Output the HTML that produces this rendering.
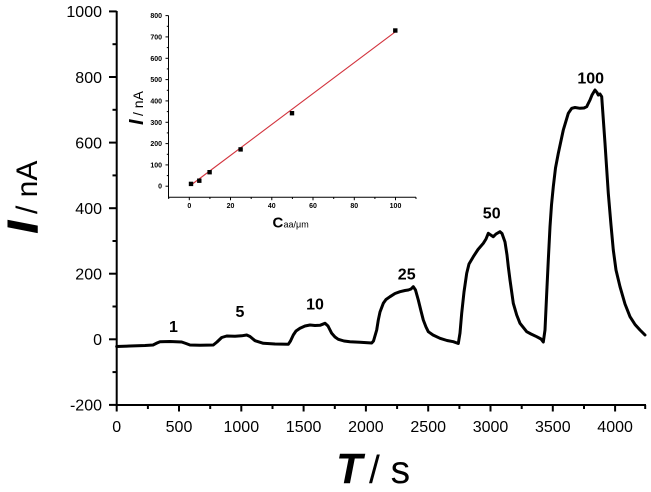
<!DOCTYPE html>
<html><head><meta charset="utf-8"><style>
html,body{margin:0;padding:0;background:#fff;}
svg{display:block;}
text{font-family:"Liberation Sans",Arial,sans-serif;fill:#000;}
</style></head><body>
<svg width="651" height="492" viewBox="0 0 651 492" xmlns="http://www.w3.org/2000/svg">
<rect width="651" height="492" fill="#fff"/>
<!-- main axes -->
<g stroke="#000" stroke-width="2" fill="none">
<line x1="116.7" y1="11" x2="116.7" y2="406"/>
<line x1="115.7" y1="405" x2="646" y2="405"/>
<line x1="109" y1="11.4" x2="116.7" y2="11.4"/>
<line x1="109" y1="77" x2="116.7" y2="77"/>
<line x1="109" y1="142.6" x2="116.7" y2="142.6"/>
<line x1="109" y1="208.2" x2="116.7" y2="208.2"/>
<line x1="109" y1="273.7" x2="116.7" y2="273.7"/>
<line x1="109" y1="339.3" x2="116.7" y2="339.3"/>
<line x1="109" y1="404.9" x2="116.7" y2="404.9"/>
<line x1="112.5" y1="44.2" x2="116.7" y2="44.2"/>
<line x1="112.5" y1="109.8" x2="116.7" y2="109.8"/>
<line x1="112.5" y1="175.4" x2="116.7" y2="175.4"/>
<line x1="112.5" y1="241" x2="116.7" y2="241"/>
<line x1="112.5" y1="306.5" x2="116.7" y2="306.5"/>
<line x1="112.5" y1="372.1" x2="116.7" y2="372.1"/>
<line x1="116.7" y1="405" x2="116.7" y2="411.5"/>
<line x1="179" y1="405" x2="179" y2="411.5"/>
<line x1="241.3" y1="405" x2="241.3" y2="411.5"/>
<line x1="303.6" y1="405" x2="303.6" y2="411.5"/>
<line x1="365.9" y1="405" x2="365.9" y2="411.5"/>
<line x1="428.2" y1="405" x2="428.2" y2="411.5"/>
<line x1="490.5" y1="405" x2="490.5" y2="411.5"/>
<line x1="552.8" y1="405" x2="552.8" y2="411.5"/>
<line x1="615.1" y1="405" x2="615.1" y2="411.5"/>
<line x1="147.9" y1="405" x2="147.9" y2="409"/>
<line x1="210.2" y1="405" x2="210.2" y2="409"/>
<line x1="272.5" y1="405" x2="272.5" y2="409"/>
<line x1="334.8" y1="405" x2="334.8" y2="409"/>
<line x1="397.1" y1="405" x2="397.1" y2="409"/>
<line x1="459.4" y1="405" x2="459.4" y2="409"/>
<line x1="521.7" y1="405" x2="521.7" y2="409"/>
<line x1="584" y1="405" x2="584" y2="409"/>
<line x1="645.2" y1="405" x2="645.2" y2="409"/>
</g>
<g font-size="16" text-anchor="end">
<text x="102" y="17.2">1000</text>
<text x="102" y="82.8">800</text>
<text x="102" y="148.4">600</text>
<text x="102" y="214">400</text>
<text x="102" y="279.5">200</text>
<text x="102" y="345.1">0</text>
<text x="102" y="410.7">-200</text>
</g>
<g font-size="16" text-anchor="middle">
<text x="116.7" y="432">0</text>
<text x="179" y="432">500</text>
<text x="241.3" y="432">1000</text>
<text x="303.6" y="432">1500</text>
<text x="365.9" y="432">2000</text>
<text x="428.2" y="432">2500</text>
<text x="490.5" y="432">3000</text>
<text x="552.8" y="432">3500</text>
<text x="615.1" y="432">4000</text>
</g>
<text x="336" y="483" font-size="43" font-weight="bold" font-style="italic">T</text>
<text x="369" y="483" font-size="39">/ s</text>
<g transform="translate(37,233) rotate(-90)">
<text x="0" y="0" font-size="42" font-weight="bold" font-style="italic" stroke="#000" stroke-width="1.5">I</text>
<text x="19" y="0" font-size="30">/ nA</text>
</g>
<g font-size="16" font-weight="bold" text-anchor="middle">
<text x="173.5" y="332">1</text>
<text x="240" y="317">5</text>
<text x="315" y="309.5">10</text>
<text x="406.7" y="279.5">25</text>
<text x="491.7" y="218.5">50</text>
<text x="590.7" y="83.5">100</text>
</g>
<polyline fill="none" stroke="#000" stroke-width="3" stroke-linejoin="round" stroke-linecap="round" points="
116.7,346.5 130,346 145,345.5 153,345 157,343 160,341.7 170,341.5 181.7,342 186,343.5 190,345 200,345.3 213.3,345 217,342 221.7,337.5 226.7,336 235,336.3 241.7,335.8 246.7,335 250,336.5 255,340.7 263.3,343.3 275,344 288.3,344.3 290.5,341 293.3,335 296,331 300,328.3 305,326 310,325 315,325.5 320,325.3 325,323.3 328,326 331.7,333.3 335,337 338.3,339.3 344,341 350,341.7 360,342.3 371.7,343 373.5,341 376.7,330 378.3,320 380,312 383.3,303.3 386,299.5 390,296.7 395,293.5 400,291.7 405,290.5 408.3,290 411,289 413.3,286.7 415.5,290 418.3,300 421,311 423.3,320 426,327 428.3,331.7 433,335 440,338.3 447,340.5 453.3,341.7 458.3,343.5 460,333 461.7,313.3 464,292 466.7,273.3 469,264 473.3,256.7 478,249.5 483.3,243.3 486,239 488.3,233.3 490,234.5 493.3,236.7 496,234 500,231.7 502,233.5 505,242 507,255 508.3,266.7 510,280 513.3,303.3 516.7,315 520,323.3 526.7,331.7 531,334 536.7,336.7 541,339 543.3,342 545,330 546.7,293.3 548.3,260 550,226.7 551.5,205 553.3,186.7 555.5,168 558.3,153.3 563.3,130 568.3,113.3 571.7,108.3 575,107.5 580,108.3 584,108 586.7,106.7 588,104 590,100 592,95 595,90 597,92.5 598.3,95 600,94 601.7,96.7 603,115 605,143.3 608.3,193.3 611,225 613.3,250 616,270 620,286.7 625,304 630,316.7 635,324.5 640,330 645,335"/>

<g stroke="#000" stroke-width="1" fill="none">
<line x1="168.5" y1="15.5" x2="168.5" y2="197.7"/>
<line x1="168" y1="197.2" x2="416" y2="197.2"/>
<line x1="165.5" y1="15.6" x2="168.5" y2="15.6"/>
<line x1="165.5" y1="36.9" x2="168.5" y2="36.9"/>
<line x1="165.5" y1="58.3" x2="168.5" y2="58.3"/>
<line x1="165.5" y1="79.6" x2="168.5" y2="79.6"/>
<line x1="165.5" y1="100.9" x2="168.5" y2="100.9"/>
<line x1="165.5" y1="122.3" x2="168.5" y2="122.3"/>
<line x1="165.5" y1="143.6" x2="168.5" y2="143.6"/>
<line x1="165.5" y1="164.9" x2="168.5" y2="164.9"/>
<line x1="165.5" y1="186.2" x2="168.5" y2="186.2"/>
<line x1="166.8" y1="26.3" x2="168.5" y2="26.3"/>
<line x1="166.8" y1="47.6" x2="168.5" y2="47.6"/>
<line x1="166.8" y1="68.9" x2="168.5" y2="68.9"/>
<line x1="166.8" y1="90.3" x2="168.5" y2="90.3"/>
<line x1="166.8" y1="111.6" x2="168.5" y2="111.6"/>
<line x1="166.8" y1="132.9" x2="168.5" y2="132.9"/>
<line x1="166.8" y1="154.3" x2="168.5" y2="154.3"/>
<line x1="166.8" y1="175.6" x2="168.5" y2="175.6"/>
<line x1="189.3" y1="197.2" x2="189.3" y2="200.2"/>
<line x1="230.5" y1="197.2" x2="230.5" y2="200.2"/>
<line x1="271.8" y1="197.2" x2="271.8" y2="200.2"/>
<line x1="313" y1="197.2" x2="313" y2="200.2"/>
<line x1="354.3" y1="197.2" x2="354.3" y2="200.2"/>
<line x1="395.5" y1="197.2" x2="395.5" y2="200.2"/>
<line x1="168.7" y1="197.2" x2="168.7" y2="199"/>
<line x1="209.9" y1="197.2" x2="209.9" y2="199"/>
<line x1="251.2" y1="197.2" x2="251.2" y2="199"/>
<line x1="292.4" y1="197.2" x2="292.4" y2="199"/>
<line x1="333.7" y1="197.2" x2="333.7" y2="199"/>
<line x1="374.9" y1="197.2" x2="374.9" y2="199"/>
<line x1="416" y1="197.2" x2="416" y2="199"/>
</g>
<g font-size="7" font-weight="bold" text-anchor="end">
<text x="162" y="18.1">800</text>
<text x="162" y="39.4">700</text>
<text x="162" y="60.8">600</text>
<text x="162" y="82.1">500</text>
<text x="162" y="103.4">400</text>
<text x="162" y="124.8">300</text>
<text x="162" y="146.1">200</text>
<text x="162" y="167.4">100</text>
<text x="162" y="188.7">0</text>
</g>
<g font-size="7" font-weight="bold" text-anchor="middle">
<text x="189.3" y="207.8">0</text>
<text x="230.5" y="207.8">20</text>
<text x="271.8" y="207.8">40</text>
<text x="313" y="207.8">60</text>
<text x="354.3" y="207.8">80</text>
<text x="395.5" y="207.8">100</text>
</g>
<text x="272.5" y="227.5" font-size="15" font-weight="bold">C</text>
<text x="283.5" y="227.5" font-size="9">aa/μm</text>
<g transform="translate(143,125) rotate(-90)">
<text x="0" y="0" font-size="20" font-weight="bold" font-style="italic">I</text>
<text x="9" y="0" font-size="14">/ nA</text>
</g>
<line x1="191" y1="185" x2="395.5" y2="31.7" stroke="#d2343e" stroke-width="1.1"/>
<g fill="#000">
<rect x="188.8" y="181.7" width="4.4" height="4.4"/>
<rect x="197.1" y="178.5" width="4.4" height="4.4"/>
<rect x="207.4" y="170" width="4.4" height="4.4"/>
<rect x="238.4" y="147.2" width="4.4" height="4.4"/>
<rect x="289.8" y="111" width="4.4" height="4.4"/>
<rect x="393.1" y="28.3" width="4.4" height="4.4"/>
</g>
</svg>
</body></html>
